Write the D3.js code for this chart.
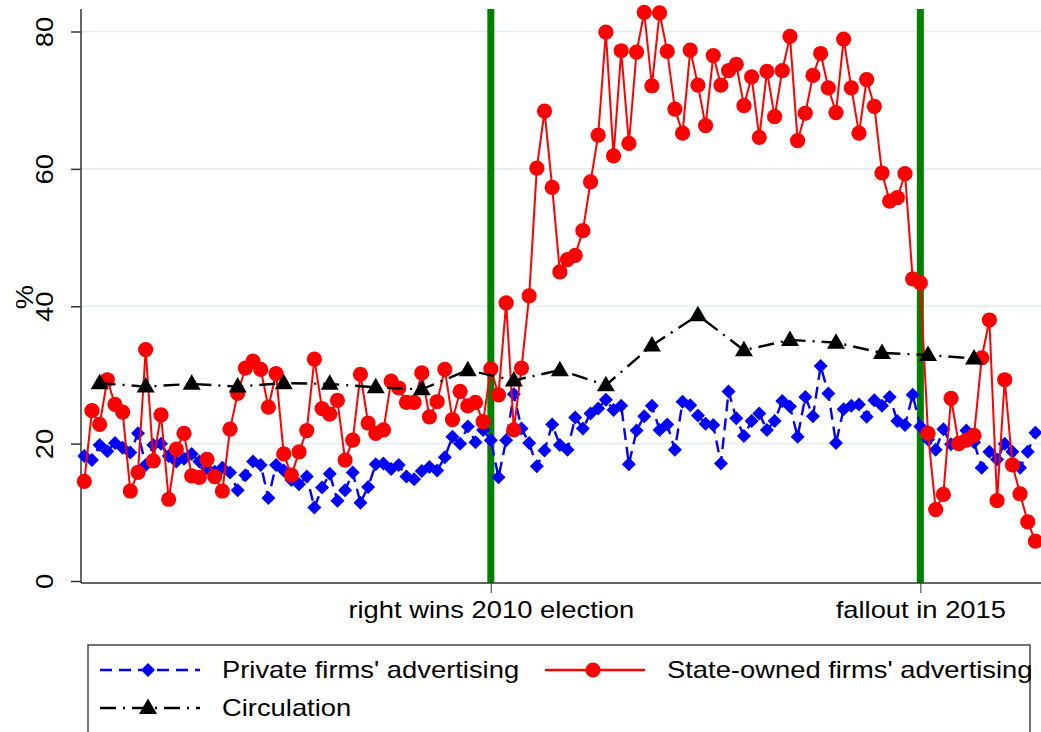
<!DOCTYPE html>
<html><head><meta charset="utf-8">
<script src="https://cdn.jsdelivr.net/npm/d3@7"></script>
<style>body{margin:0;background:#fff}svg{display:block}</style>
</head><body><svg id="c" width="1041" height="732"></svg>
<script>
// ---- data (monthly index 0..124) ----
const privateAds = [18.2,17.6,19.8,18.9,20.1,19.4,18.7,21.5,16.9,19.8,20.0,18.2,17.4,17.8,18.5,17.4,16.4,15.9,16.5,15.8,
13.2,15.4,17.4,16.9,12.1,16.9,16.1,14.7,14.1,15.2,10.7,13.6,15.6,11.7,13.2,15.8,11.4,13.7,17.0,17.1,
16.3,16.9,15.2,14.8,16.0,16.6,16.1,18.0,21.0,20.0,22.5,20.2,22.0,20.5,15.1,20.5,27.2,22.2,20.1,16.7,
19.0,22.8,19.8,19.1,23.8,22.2,24.4,25.1,26.4,24.9,25.5,17.0,21.9,24.0,25.5,22.0,22.8,19.1,26.1,25.6,
24.1,22.9,22.7,17.1,27.6,23.7,21.1,23.3,24.4,22.0,23.3,26.2,25.4,21.0,26.8,24.0,31.3,27.3,20.1,25.0,
25.5,25.7,23.9,26.3,25.5,26.8,23.3,22.7,27.1,22.5,20.6,19.1,22.1,19.9,20.1,21.9,20.2,16.5,18.8,17.7,
20.0,18.8,16.5,18.8,21.6];
const stateAds = [14.5,24.8,22.8,29.3,25.7,24.6,13.1,15.8,33.7,17.5,24.2,11.9,19.2,21.5,15.3,15.1,17.7,15.2,13.1,22.1,
27.3,31.0,32.0,30.8,25.3,30.2,18.5,15.4,18.8,21.9,32.3,25.1,24.3,26.3,17.6,20.5,30.1,23.0,21.5,22.0,
29.1,28.1,26.0,26.0,30.3,23.9,26.1,30.8,23.5,27.6,25.5,26.0,23.2,30.9,27.1,40.5,22.0,31.0,41.5,60.1,
68.4,57.3,45.0,46.8,47.4,51.0,58.1,64.9,79.9,61.9,77.2,63.7,77.0,82.8,72.1,82.7,77.1,68.7,65.2,77.3,
72.2,66.3,76.5,72.2,74.3,75.2,69.2,73.4,64.6,74.2,67.6,74.3,79.3,64.1,68.1,73.6,76.8,71.8,68.2,78.9,
71.8,65.2,73.0,69.1,59.4,55.3,55.8,59.3,44.0,43.4,21.5,10.4,12.6,26.6,20.0,20.5,21.2,32.5,38.0,11.7,
29.3,16.9,12.7,8.6,5.8];
const circMonths = [2,8,14,20,26,32,38,44,50,56,62,68,74,80,86,92,98,104,110,116];
const circulation = [28.8,28.3,28.7,28.3,28.8,28.7,28.2,27.9,30.7,29.2,30.7,28.5,34.3,38.7,33.6,35.1,34.7,33.2,32.9,32.4];
const eventMonths = [53,109];
const eventLabels = ["right wins 2010 election","fallout in 2015"];
const yTicks = [0,20,40,60,80];
const seriesNames = ["Private firms' advertising","State-owned firms' advertising","Circulation"];

// ---- setup ----
const svg = d3.select("#c");
const FONT = "'Liberation Sans', Arial, Helvetica, sans-serif";
const FS = 23, SX = 1.19;
const BLUE_DASH = "12,7", BLACK_DASH = "16,7,2,7";
const x = d3.scaleLinear().domain([-0.43,124.73]).range([81,1041]);
const y = d3.scaleLinear().domain([0,80]).range([581,31.5]);
const plotTop = 9, axisY = 583, axisX = 81;

// gridlines
svg.append("g").selectAll("line").data(yTicks.filter(d=>d>0)).join("line")
  .attr("x1",axisX).attr("x2",1041).attr("y1",d=>y(d)).attr("y2",d=>y(d))
  .attr("stroke","#e4edf0").attr("stroke-width",1.6);

// event lines
svg.append("g").selectAll("line").data(eventMonths).join("line")
  .attr("x1",d=>x(d)).attr("x2",d=>x(d)).attr("y1",plotTop).attr("y2",axisY)
  .attr("stroke","#008000").attr("stroke-width",7);

// y axis
const yAxis = svg.append("g").attr("transform",`translate(${axisX},0)`)
  .call(d3.axisLeft(y).tickValues(yTicks).tickSize(10).tickFormat(d3.format("d")));
yAxis.select(".domain").remove();
yAxis.selectAll(".tick line").attr("stroke","#333").attr("stroke-width",1.5);
yAxis.selectAll(".tick text")
  .attr("x",null).attr("dy",null)
  .attr("transform","translate(-28,0) rotate(-90) scale("+SX+",1)")
  .attr("text-anchor","middle").attr("font-family",FONT).attr("font-size",FS).attr("fill","#000");
svg.append("line").attr("x1",axisX).attr("x2",axisX).attr("y1",plotTop).attr("y2",axisY)
  .attr("stroke","#333").attr("stroke-width",1.5);

// x axis
const xAxis = svg.append("g").attr("transform",`translate(0,${axisY})`)
  .call(d3.axisBottom(x).tickValues(eventMonths).tickSize(10).tickFormat((d,i)=>eventLabels[i]));
xAxis.select(".domain").remove();
xAxis.selectAll(".tick line").attr("stroke","#555").attr("stroke-width",1.2);
xAxis.selectAll(".tick text")
  .attr("y",null).attr("dy",null)
  .attr("transform","translate(0,35) scale("+SX+",1)")
  .attr("text-anchor","middle").attr("font-family",FONT).attr("font-size",FS).attr("fill","#000");
svg.append("line").attr("x1",axisX).attr("x2",1041).attr("y1",axisY).attr("y2",axisY)
  .attr("stroke","#333").attr("stroke-width",1.5);

// y title
svg.append("text").attr("transform","translate(33,297) rotate(-90) scale("+SX+",1)")
  .attr("text-anchor","middle").attr("font-family",FONT).attr("font-size",FS).text("%");

// symbols
function drawDiamond(g,cx,cy){ g.append("path").attr("d","M0,-7L7,0L0,7L-7,0Z").attr("transform",`translate(${cx},${cy})`).attr("fill","#0000ff"); }
function drawCircle(g,cx,cy){ g.append("circle").attr("cx",cx).attr("cy",cy).attr("r",7.6).attr("fill","#ff0000"); }
function drawTri(g,cx,cy){ g.append("path").attr("d","M0,-9.5L9,6L-9,6Z").attr("transform",`translate(${cx},${cy})`).attr("fill","#000"); }

const line = d3.line();

// private
const gP = svg.append("g");
gP.append("path").attr("d",line(privateAds.map((v,i)=>[x(i),y(v)])))
  .attr("fill","none").attr("stroke","#0000ff").attr("stroke-width",2.4).attr("stroke-dasharray",BLUE_DASH);
gP.selectAll("path.m").data(privateAds).join("path").attr("class","m")
  .attr("d","M0,-7L7,0L0,7L-7,0Z").attr("transform",(v,i)=>`translate(${x(i)},${y(v)})`).attr("fill","#0000ff");

// state-owned
const gS = svg.append("g");
gS.append("path").attr("d",line(stateAds.map((v,i)=>[x(i),y(v)])))
  .attr("fill","none").attr("stroke","#ff0000").attr("stroke-width",2);
gS.selectAll("circle").data(stateAds).join("circle")
  .attr("cx",(v,i)=>x(i)).attr("cy",v=>y(v)).attr("r",7.6).attr("fill","#ff0000");

// circulation
const gC = svg.append("g");
gC.append("path").attr("d",line(circulation.map((v,i)=>[x(circMonths[i]),y(v)])))
  .attr("fill","none").attr("stroke","#000").attr("stroke-width",2.4).attr("stroke-dasharray",BLACK_DASH);
gC.selectAll("path.m").data(circulation).join("path").attr("class","m")
  .attr("d","M0,-9.5L9,6L-9,6Z").attr("transform",(v,i)=>`translate(${x(circMonths[i])},${y(v)})`).attr("fill","#000");

// legend
const lg = svg.append("g");
lg.append("rect").attr("x",88).attr("y",645).attr("width",942).attr("height",120)
  .attr("fill","#fff").attr("stroke","#444").attr("stroke-width",1.5);
const legendItems = [
  {name:seriesNames[0], x0:100, row:670, color:"#0000ff", dash:BLUE_DASH, mark:drawDiamond},
  {name:seriesNames[1], x0:545, row:670, color:"#ff0000", dash:null, mark:drawCircle},
  {name:seriesNames[2], x0:100, row:708, color:"#000", dash:BLACK_DASH, mark:drawTri}
];
legendItems.forEach(it=>{
  const l = lg.append("line").attr("x1",it.x0).attr("x2",it.x0+100).attr("y1",it.row).attr("y2",it.row)
    .attr("stroke",it.color).attr("stroke-width",2.4);
  if(it.dash) l.attr("stroke-dasharray",it.dash);
  it.mark(lg,it.x0+48,it.row);
  lg.append("text").attr("transform",`translate(${it.x0+122},${it.row+8}) scale(${SX},1)`)
    .attr("font-family",FONT).attr("font-size",FS).attr("fill","#000").text(it.name);
});
</script></body></html>
